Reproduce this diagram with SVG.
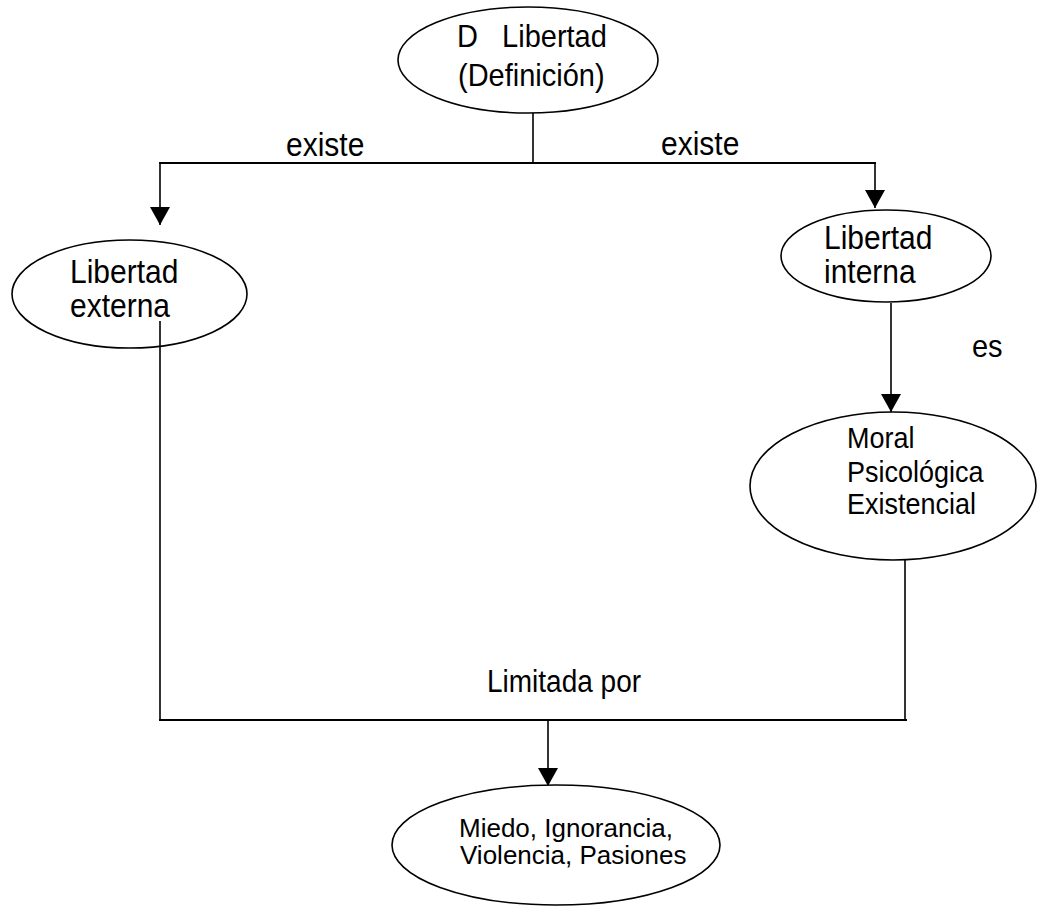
<svg xmlns="http://www.w3.org/2000/svg" width="1037" height="907" viewBox="0 0 1037 907">
<style>
  .node ellipse { fill: #fff; stroke: #000; stroke-width: 1.6; }
  .t { font-family: "Liberation Sans", Arial, sans-serif; fill: #000; }
  .conn line { stroke: #000; stroke-width: 1.6; fill: none; }
  .conn .h { stroke-width: 2; }
</style>
<defs>
  <marker id="arr" markerUnits="userSpaceOnUse" viewBox="0 0 18 20" markerWidth="18" markerHeight="20" refX="18" refY="10" orient="auto">
    <path d="M0,0 L18,10 L0,20 z" fill="#000"/>
  </marker>
</defs>
<rect width="1037" height="907" fill="#fff"/>

<g id="connectors" class="conn">
  <line x1="533" y1="113" x2="533" y2="163"/>
  <line class="h" x1="159" y1="163" x2="876" y2="163"/>
  <line x1="160" y1="163" x2="160" y2="225" marker-end="url(#arr)"/>
  <line x1="875" y1="163" x2="875" y2="208" marker-end="url(#arr)"/>
  <line x1="891" y1="303" x2="891" y2="412" marker-end="url(#arr)"/>
  <line x1="160" y1="348" x2="160" y2="720"/>
  <line x1="905" y1="560" x2="905" y2="720"/>
  <line class="h" x1="159" y1="720" x2="907" y2="720"/>
  <line x1="548" y1="720" x2="548" y2="786" marker-end="url(#arr)"/>
  <text class="t" font-size="30" transform="translate(286 156) scale(1 1.1)">existe</text>
  <text class="t" font-size="30" transform="translate(661 155) scale(1 1.1)">existe</text>
  <text class="t" font-size="29" transform="translate(972 357) scale(1 1.1)">es</text>
  <text class="t" font-size="28" transform="translate(487 692) scale(1 1.1)">Limitada por</text>
</g>

<g id="n-definicion" class="node">
  <ellipse cx="528" cy="60" rx="130" ry="53"/>
  <text class="t" font-size="29" xml:space="preserve" transform="translate(457 47) scale(1 1.1)">D   Libertad</text>
  <text class="t" font-size="29" transform="translate(458 86) scale(1 1.1)">(Definición)</text>
</g>

<g id="n-externa" class="node">
  <ellipse cx="129.5" cy="294" rx="117.5" ry="54"/>
  <text class="t" font-size="30" transform="translate(70 283) scale(1 1.1)">Libertad</text>
  <text class="t" font-size="30" transform="translate(70 317) scale(1 1.1)">externa</text>
  <line x1="160" y1="321" x2="160" y2="348" stroke="#000" stroke-width="1.6"/>
</g>

<g id="n-interna" class="node">
  <ellipse cx="886" cy="256" rx="105" ry="46"/>
  <text class="t" font-size="30" transform="translate(824 249) scale(1 1.1)">Libertad</text>
  <text class="t" font-size="30" transform="translate(824 283) scale(1 1.1)">interna</text>
</g>

<g id="n-tipos" class="node">
  <ellipse cx="893" cy="486" rx="143" ry="74"/>
  <text class="t" font-size="27" transform="translate(847 448) scale(1 1.1)">Moral</text>
  <text class="t" font-size="27" transform="translate(847 482) scale(1 1.1)">Psicológica</text>
  <text class="t" font-size="27" transform="translate(847 514) scale(1 1.1)">Existencial</text>
</g>

<g id="n-limites" class="node">
  <ellipse cx="556" cy="845" rx="164" ry="60"/>
  <text class="t" font-size="26" x="459" y="837">Miedo, Ignorancia,</text>
  <text class="t" font-size="26" x="460" y="864">Violencia, Pasiones</text>
</g>
</svg>
